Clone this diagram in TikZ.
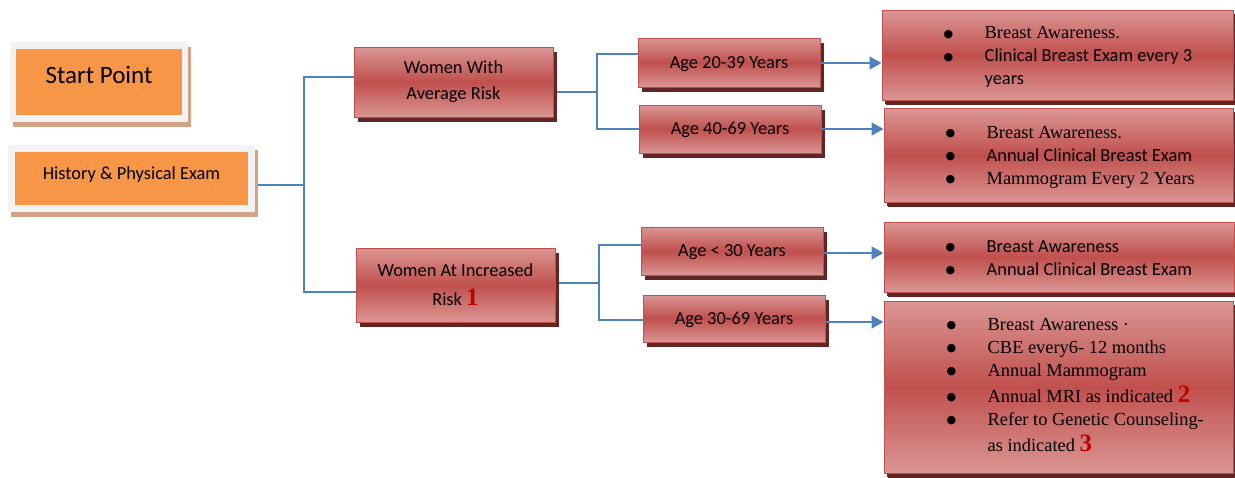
\documentclass[tikz,border=0pt]{standalone}
\usepackage{fontspec}
\setmainfont{Liberation Serif}
\newfontfamily\calib{Carlito}
\newfontfamily\djv{DejaVu Sans}
\usetikzlibrary{shadows,arrows.meta,backgrounds}
\definecolor{redlt}{HTML}{DA9694}
\definecolor{redmd}{HTML}{C0504D}
\definecolor{redsh}{HTML}{632523}
\definecolor{orng}{HTML}{F79646}
\definecolor{frm}{HTML}{F2F2F2}
\definecolor{tansh}{HTML}{D2A382}
\definecolor{connblue}{HTML}{4F81BD}
\definecolor{numred}{HTML}{C00000}
\newcommand\bul{\makebox[41pt][l]{\raisebox{1.5pt}{\djv\fontsize{11}{23}\selectfont ●}}}
\newcommand\rednum[1]{{\rmfamily\bfseries\fontsize{25}{23}\selectfont\color{numred}#1}}
\tikzset{
  redbox/.style={draw=redmd, line width=1pt, top color=redlt, bottom color=redlt, middle color=redmd,
    drop shadow={shadow xshift=4pt, shadow yshift=-5pt, fill=redsh, opacity=1},
    inner sep=0pt, font=\calib\fontsize{18.4}{26}\selectfont, align=center, text=black},
  agebox/.style={redbox, text height=16pt, text depth=4.4pt},
  listbox/.style={redbox, drop shadow={shadow xshift=3pt, shadow yshift=-4pt, fill=redsh, opacity=1}},
  framebox/.style={fill=frm, inner sep=0pt,
    drop shadow={shadow xshift=3pt, shadow yshift=-5pt, fill=tansh, opacity=1}},
  orangebox/.style={fill=orng, inner sep=0pt, text=black, text height=10pt, text depth=8pt},
  listtext/.style={anchor=west, align=left, inner sep=0pt, text=black, font=\fontsize{18.4}{23}\selectfont},
  conn/.style={draw=connblue, line width=1.5pt},
  arr/.style={conn, -{Triangle[length=12pt,width=13pt]}},
}
\begin{document}
\begin{tikzpicture}[x=1pt,y=-1pt]
\useasboundingbox (0,0) rectangle (1235,477);
% left orange boxes
\node[framebox, minimum width=178pt, minimum height=80pt] (spf) at (99,82) {};
\node[orangebox, minimum width=166pt, minimum height=66pt, font=\calib\fontsize{25}{28}\selectfont] (sp) at (99,82) {Start Point};
\node[framebox, minimum width=247pt, minimum height=67pt] (histf) at (131.5,178.5) {};
\node[orangebox, minimum width=233pt, minimum height=53pt, font=\calib\fontsize{18.4}{22}\selectfont] (hist) at (131.5,178.5) {History \& Physical Exam};
% risk boxes
\node[redbox, minimum width=199pt, minimum height=70pt] (avg) at (453.5,82) {Women With\\Average Risk};
\node[redbox, minimum width=199pt, minimum height=74pt] (inc) at (455.5,285) {Women At Increased\\[3pt]Risk \rednum{1}};
% age boxes
\node[agebox, minimum width=182pt, minimum height=49pt] (a1) at (729,62.5) {Age 20-39 Years};
\node[agebox, minimum width=182pt, minimum height=48pt] (a2) at (730,129) {Age 40-69 Years};
\node[agebox, minimum width=182pt, minimum height=48pt] (a3) at (732,251) {Age {<} 30 Years};
\node[agebox, minimum width=182pt, minimum height=47pt] (a4) at (734,318.5) {Age 30-69 Years};
% recommendation boxes
\node[listbox, minimum width=351pt, minimum height=90pt] (r1) at (1057.5,55) {};
\node[listbox, minimum width=349pt, minimum height=94pt] (r2) at (1058.5,155) {};
\node[listbox, minimum width=350pt, minimum height=70pt] (r3) at (1059,257) {};
\node[listbox, minimum width=349pt, minimum height=172pt] (r4) at (1058.5,387) {};
\node[listtext] (r1t) at ([xshift=62pt,yshift=-2pt]r1.west) {\bul Breast Awareness.\\ \bul{\calib Clinical Breast Exam every 3}\\ \hspace*{41pt}{\calib years}};
\node[listtext] (r2t) at ([xshift=62pt,yshift=-2pt]r2.west) {\bul Breast Awareness.\\ \bul{\calib Annual Clinical Breast Exam}\\ \bul Mammogram Every 2 Years};
\node[listtext] (r3t) at ([xshift=62pt,yshift=-1pt]r3.west) {\bul{\calib Breast Awareness}\\ \bul{\calib Annual Clinical Breast Exam}};
\node[listtext] (r4t) at ([xshift=63pt,yshift=2pt]r4.west) {\bul Breast Awareness ·\\ \bul CBE every6- 12 months\\ \bul Annual Mammogram\\[3pt] \bul Annual MRI as indicated \rednum{2}\\ \bul Refer to Genetic Counseling-\\[3pt] \hspace*{41pt}as indicated \rednum{3}};
% connectors
\begin{scope}[on background layer]
\coordinate (j1) at (304,185);
\coordinate (j2) at (597,92);
\coordinate (j3) at (599,283);
\draw[conn] (hist.east |- j1) -- (j1);
\draw[conn] (j1) |- ([yshift=5pt]avg.west);
\draw[conn] (j1) |- ([yshift=-7pt]inc.west);
\draw[conn] (avg.east |- j2) -- (j2);
\draw[conn] (j2) |- ([yshift=8.5pt]a1.west);
\draw[conn] (j2) |- (a2.west);
\draw[conn] (inc.east |- j3) -- (j3);
\draw[conn] (j3) |- ([yshift=6pt]a3.west);
\draw[conn] (j3) |- ([yshift=-1.5pt]a4.west);
\end{scope}
\draw[arr] ([yshift=-0.5pt]a1.east) -- ([yshift=-0.5pt]a1.east -| r1.west);
\draw[arr] (a2.east) -- (a2.east -| r2.west);
\draw[arr] ([yshift=-2pt]a3.east) -- ([yshift=-2pt]a3.east -| r3.west);
\draw[arr] ([yshift=-3.5pt]a4.east) -- ([yshift=-3.5pt]a4.east -| r4.west);
\end{tikzpicture}
\end{document}
